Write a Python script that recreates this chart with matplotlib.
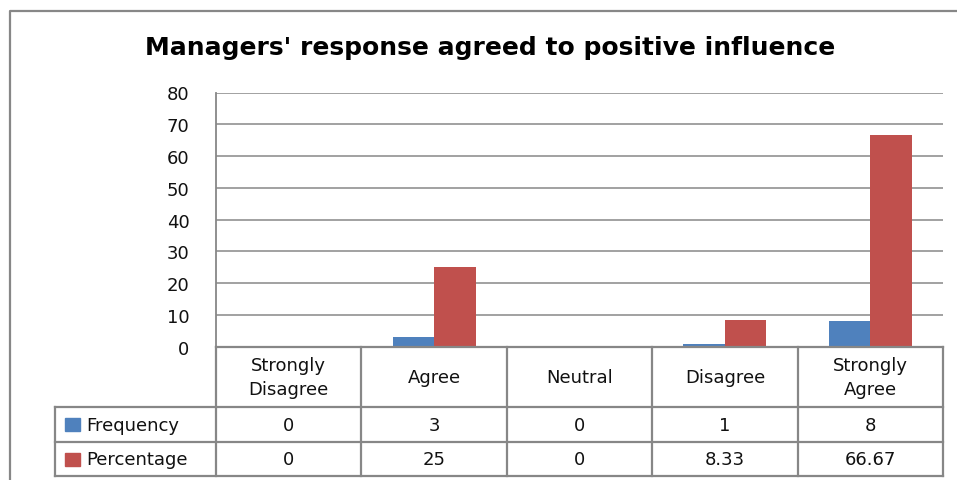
import matplotlib
matplotlib.use("Agg")
import matplotlib.pyplot as plt
from matplotlib.lines import Line2D
from matplotlib.patches import Rectangle

# chart data
categories = ["Strongly\nDisagree", "Agree", "Neutral", "Disagree", "Strongly\nAgree"]
series_names = ["Frequency", "Percentage"]
frequency = [0, 3, 0, 1, 8]
percentage = [0, 25, 0, 8.33, 66.67]
frequency_labels = ["0", "3", "0", "1", "8"]
percentage_labels = ["0", "25", "0", "8.33", "66.67"]
y_ticks = [0, 10, 20, 30, 40, 50, 60, 70, 80]
title = "Managers' response agreed to positive influence"

colors = ["#4F81BD", "#C0504D"]
grey = "#878787"
W, H = 957, 481


def fx(px):
    return px / W


def fy(py):
    return 1 - py / H


fig = plt.figure(figsize=(W / 100, H / 100), dpi=100)
fig.patch.set_facecolor("white")

# outer chart frame (left and top edge only visible)
fig.add_artist(Line2D([fx(10), fx(10), fx(960)], [fy(490), fy(12), fy(12)],
                      color=grey, lw=1.6, transform=fig.transFigure))

fig.text(fx(490), fy(48), title, ha="center", va="center",
         fontsize=18, fontweight="bold", family="DejaVu Sans")

# plot area
left, right, top, bottom = 216, 943, 93.5, 347.7
ax = fig.add_axes([fx(left), fy(bottom), fx(right - left), (bottom - top) / H])
ax.set_xlim(0, 5)
ax.set_ylim(0, 80)
bw = 0.286
xs = range(len(categories))
ax.bar([x + 0.5 - bw / 2 for x in xs], frequency, width=bw, color=colors[0], zorder=3)
ax.bar([x + 0.5 + bw / 2 for x in xs], percentage, width=bw, color=colors[1], zorder=3)
ax.set_yticks(y_ticks)
ax.set_yticklabels([str(t) for t in y_ticks])
ax.tick_params(axis="y", length=0, pad=19, labelsize=13, labelcolor="#111111")
ax.set_xticks([])
ax.grid(axis="y", color=grey, lw=1.1, zorder=0)
for s in ["top", "right", "bottom"]:
    ax.spines[s].set_visible(False)
ax.spines["left"].set_color(grey)
ax.spines["left"].set_linewidth(1.3)

# data table below the plot area
tleft, ttop, tbottom = 55, 347.7, 477
col_w = (right - left) / 5
leg_w = (left - tleft) / col_w
tax = fig.add_axes([fx(tleft), fy(tbottom), fx(right - tleft), (tbottom - ttop) / H])
tax.set_xlim(-leg_w, 5)
tax.set_ylim(tbottom - ttop, 0)
tax.axis("off")
rows = [0, 60.5, 95.5, 129.3]
lc = dict(color=grey, lw=1.6, clip_on=False)
# horizontal lines
tax.plot([0, 5], [rows[0], rows[0]], **lc)
for r in rows[1:]:
    tax.plot([-leg_w, 5], [r, r], **lc)
# vertical lines
tax.plot([-leg_w, -leg_w], [rows[1], rows[3]], **lc)
for c in range(6):
    tax.plot([c, c], [rows[0], rows[3]], **lc)

fs = 13
for i, cat in enumerate(categories):
    tax.text(i + 0.5, (rows[0] + rows[1]) / 2, cat, ha="center", va="center",
             fontsize=fs, linespacing=1.4, color="#111111")
    tax.text(i + 0.5, (rows[1] + rows[2]) / 2, frequency_labels[i], ha="center",
             va="center", fontsize=fs, color="#111111")
    tax.text(i + 0.5, (rows[2] + rows[3]) / 2, percentage_labels[i], ha="center",
             va="center", fontsize=fs, color="#111111")

sq = 15 / col_w
for j, name in enumerate(series_names):
    yc = (rows[j + 1] + rows[j + 2]) / 2
    tax.add_patch(Rectangle((-leg_w + 10 / col_w, yc - 6.5), sq, 13,
                            color=colors[j], clip_on=False))
    tax.text(-leg_w + 31 / col_w, yc, name, ha="left", va="center",
             fontsize=fs, color="#111111")

fig.savefig("out.png", dpi=100, facecolor="white")
